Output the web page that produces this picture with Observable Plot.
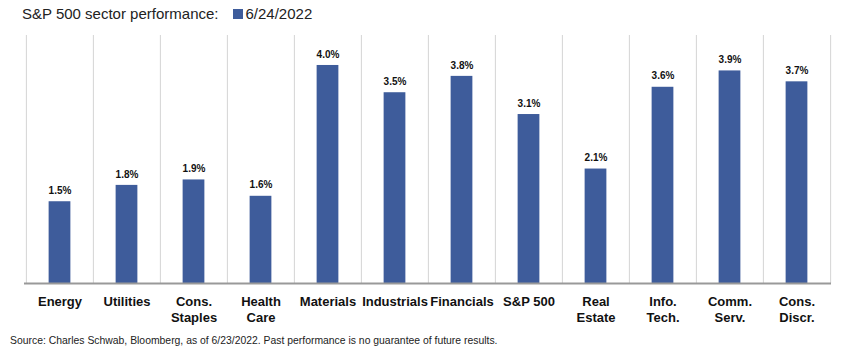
<!DOCTYPE html>
<html><head><meta charset="utf-8">
<script src="https://cdn.jsdelivr.net/npm/d3@7"></script>
<script src="https://cdn.jsdelivr.net/npm/@observablehq/plot@0.6"></script>
<style>
body{margin:0;background:#fff;font-family:"Liberation Sans",Arial,sans-serif;}
#wrap{position:relative;width:845px;height:355px;}
#title{position:absolute;left:22px;top:5px;font-size:15px;color:#222;white-space:nowrap;}
#title .sw{display:inline-block;width:10px;height:10px;background:#3e5c9b;margin-left:14px;margin-right:3px;vertical-align:0px;}
#foot{position:absolute;left:10px;top:335px;font-size:10.4px;color:#222;white-space:nowrap;}
</style></head>
<body><div id="wrap"><div id="title">S&amp;P 500 sector performance:<span class="sw"></span>6/24/2022</div><div id="chart"></div><div id="foot">Source: Charles Schwab, Bloomberg, as of 6/23/2022. Past performance is no guarantee of future results.</div></div>
<script>
const categories = ["Energy","Utilities","Cons.\nStaples","Health\nCare","Materials","Industrials","Financials","S&P 500","Real\nEstate","Info.\nTech.","Comm.\nServ.","Cons.\nDiscr."];
const values = [1.5,1.8,1.9,1.6,4.0,3.5,3.8,3.1,2.1,3.6,3.9,3.7];
const labels = ["1.5%","1.8%","1.9%","1.6%","4.0%","3.5%","3.8%","3.1%","2.1%","3.6%","3.9%","3.7%"];
const yMax = 4.55;

const data = categories.map((c,i)=>({cat:c, v:values[i], label:labels[i]}));
const W = 845, H = 355, ml = 24, mr = 14, mt = 35, mb = 72;
const step = (W - ml - mr) / categories.length;
const barInset = (step - 22) / 2;

const chart = Plot.plot({
  width: W, height: H,
  marginLeft: ml, marginRight: mr, marginTop: mt, marginBottom: mb,
  style: {fontFamily: '"Liberation Sans", Arial, sans-serif', color: "#111", background: "transparent"},
  x: {type: "band", domain: categories, padding: 0, label: null},
  y: {domain: [0, yMax], axis: null},
  marks: [
    Plot.ruleX(categories, {x: d=>d, dx: -step/2, y1: 0, y2: yMax, stroke: "#d4d4d4", strokeWidth: 1}),
    Plot.ruleX(categories.slice(-1), {x: d=>d, dx: step/2, y1: 0, y2: yMax, stroke: "#d4d4d4", strokeWidth: 1}),
    Plot.barY(data, {x: "cat", y: "v", fill: "#3e5c9b", insetLeft: barInset, insetRight: barInset}),
    Plot.ruleY([0], {stroke: "#999", strokeWidth: 2}),
    Plot.text(data, {x: "cat", y: "v", text: "label", dy: -11, fontSize: 10, fontWeight: "bold", fill: "#111"}),
    Plot.axisX({tickSize: 0, tickPadding: 10, fontSize: 13, fontWeight: "bold", lineHeight: 1.3, fill: "#111", label: null})
  ]
});
document.getElementById("chart").appendChild(chart);
</script></body></html>
